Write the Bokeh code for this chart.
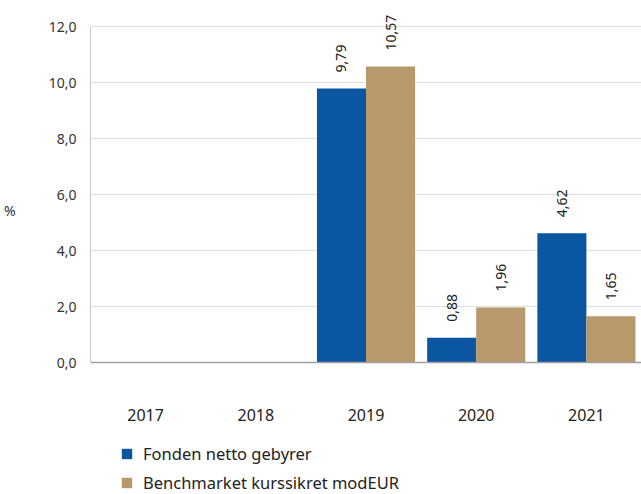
import math
from bokeh.plotting import figure
from bokeh.models import (ColumnDataSource, FixedTicker, CustomJSTickFormatter, LabelSet,
                          Legend, LegendItem)
from bokeh.core.properties import value
from bokeh.transform import dodge
from bokeh.embed import file_html
from bokeh.resources import INLINE

years = ["2017", "2018", "2019", "2020", "2021"]
fund = [None, None, 9.79, 0.88, 4.62]
bench = [None, None, 10.57, 1.96, 1.65]
series_names = ["Fonden netto gebyrer", "Benchmarket kurssikret modEUR"]
y_ticks = [0, 2, 4, 6, 8, 10, 12]
y_label = "%"

BLUE = "#0A56A0"
TAN = "#B8996B"
FONT = "Noto Sans"

def make_src(vals):
    xs = [y for y, v in zip(years, vals) if v is not None]
    vs = [v for v in vals if v is not None]
    return ColumnDataSource(dict(year=xs, val=vs, lab=[f"{v:.2f}".replace(".", ",") for v in vs]))

src_f = make_src(fund)
src_b = make_src(bench)

# frame spans the full height; value 0 sits at 362px, 12 at 26px from top
H = 494
px_per_unit = (362 - 26) / 12.0
y_start = -(H - 362) / px_per_unit
y_end = 12 + 26 / px_per_unit

p = figure(x_range=years, y_range=(y_start, y_end), width=641, height=H,
           output_backend="svg", toolbar_location=None,
           min_border_left=90, min_border_right=0, min_border_top=0, min_border_bottom=0)
p.outline_line_color = None
p.x_range.range_padding = 0

w = 0.445
r1 = p.vbar(x=dodge("year", -w / 2, range=p.x_range), top="val", width=w, source=src_f,
            color=BLUE, line_color=None)
r2 = p.vbar(x=dodge("year", w / 2, range=p.x_range), top="val", width=w, source=src_b,
            color=TAN, line_color=None)

for src, off in ((src_f, -w / 2), (src_b, w / 2)):
    p.add_layout(LabelSet(x=dodge("year", off, range=p.x_range), y="val", text="lab", source=src,
                          angle=math.pi / 2, text_align="left", text_baseline="middle",
                          y_offset=16, text_font=value(FONT), text_font_size="14px",
                          text_color="#222222"))

p.yaxis.ticker = FixedTicker(ticks=y_ticks)
p.yaxis.bounds = (0, 12)
p.yaxis.formatter = CustomJSTickFormatter(code="return tick.toFixed(1).replace('.', ',');")
p.yaxis.major_tick_line_color = None
p.yaxis.minor_tick_line_color = None
p.yaxis.axis_line_color = "#C8C8C8"
p.yaxis.major_label_standoff = 8
p.yaxis.major_label_text_font = FONT
p.yaxis.major_label_text_font_size = "14px"
p.yaxis.major_label_text_color = "#333333"
# extra blank lines lift the single visible "%" toward the plotted band's middle
p.yaxis.axis_label = y_label + "\n \n \n "
p.yaxis.axis_label_standoff = 30
p.yaxis.axis_label_text_font = FONT
p.yaxis.axis_label_text_font_size = "14px"
p.yaxis.axis_label_text_line_height = 1.3
p.yaxis.axis_label_text_font_style = "normal"
p.yaxis.axis_label_text_color = "#333333"
try:
    p.yaxis.axis_label_orientation = "horizontal"
except Exception:
    pass

p.xaxis.fixed_location = 0
p.xaxis.major_tick_line_color = None
p.xaxis.axis_line_color = "#A0A0A0"
p.xaxis.axis_line_width = 1.5
p.xaxis.major_label_standoff = 40
p.xaxis.major_label_text_font = FONT
p.xaxis.major_label_text_font_size = "16px"
p.xaxis.major_label_text_color = "#222222"

p.xgrid.grid_line_color = None
p.ygrid.grid_line_color = "#DDDDDD"
p.ygrid.ticker = FixedTicker(ticks=y_ticks)

legend = Legend(items=[LegendItem(label=series_names[0], renderers=[r1]),
                       LegendItem(label=series_names[1], renderers=[r2])],
                location=(30, 0), orientation="vertical", border_line_color=None,
                background_fill_alpha=0, padding=0, margin=0, spacing=6,
                glyph_width=13, glyph_height=13, label_height=20,
                label_text_font=FONT, label_text_font_size="16.5px",
                label_text_color="#222222", label_standoff=10)
p.add_layout(legend, "center")

open("out.html", "w").write(file_html(p, INLINE))
